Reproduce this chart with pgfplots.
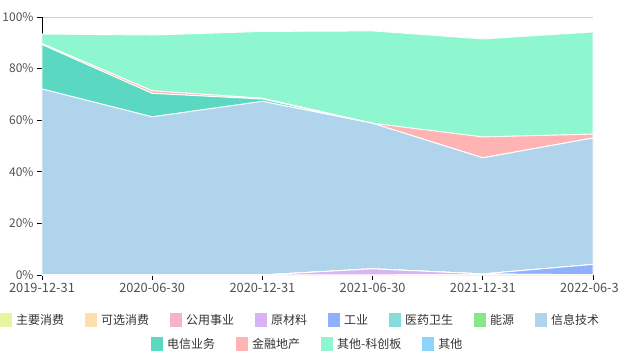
\documentclass[border=0pt]{standalone}
\usepackage{pgfplots}
\pgfplotsset{compat=1.18}
\usepackage{pgfplotstable}
\usepackage{fontspec}
\setmainfont{Noto Sans CJK SC}
\definecolor{c1}{RGB}{230,245,160}
\definecolor{c2}{RGB}{253,223,176}
\definecolor{c3}{RGB}{249,176,207}
\definecolor{c4}{RGB}{216,180,244}
\definecolor{c5}{RGB}{143,176,253}
\definecolor{c6}{RGB}{133,220,220}
\definecolor{c7}{RGB}{138,230,142}
\definecolor{c8}{RGB}{176,212,236}
\definecolor{c9}{RGB}{91,216,193}
\definecolor{c10}{RGB}{255,179,179}
\definecolor{c11}{RGB}{143,247,207}
\definecolor{c12}{RGB}{143,211,255}
\definecolor{labgray}{RGB}{80,80,80}
\definecolor{legtext}{RGB}{51,51,51}

\pgfplotstableread{
x  a  b   c   d   e   f  g  h    i    j    k    l
0  0  0   0   0   0   0  0  72.1 17.2 0.4  3.7  0
1  0  0   0   0   0   0  0  61.3 9.1  1.0  21.6 0
2  0  0   0   0   0   0  0  67.3 0.9  0.3  25.9 0
3  0  0   0   2.4 0   0  0  56.4 0    0    35.8 0
4  0  0.1 0   0.3 0   0  0  45.0 0    8.1  38.0 0
5  0  0   0.1 0   4.0 0  0  49.0 0    1.5  39.6 0
}\data

\pgfplotsset{
  legend image code/.code={\fill[#1,draw=none] (0bp,-7bp) rectangle (12bp,7bp);},
  mylegend/.style={
    draw=none, fill=none, inner sep=0pt, anchor=west,
    font=\fontsize{12bp}{14bp}\selectfont, text=legtext,
    nodes={inner sep=0pt},
    /tikz/every odd column/.append style={column sep=4bp},
    /tikz/every even column/.append style={column sep=21bp},
  },
}

\begin{document}
\begin{tikzpicture}
\path[use as bounding box] (-42bp,-76bp) rectangle (577bp,275bp);
\begin{axis}[
  at={(0,0)}, anchor=south west,
  scale only axis, width=551bp, height=258bp,
  xmin=0, xmax=5, ymin=0, ymax=100,
  stack plots=y,
  xtick={0,1,2,3,4,5},
  xticklabels={2019-12-31,2020-06-30,2020-12-31,2021-06-30,2021-12-31,2022-06-30},
  ytick={0,20,40,60,80,100},
  yticklabels={0\%,20\%,40\%,60\%,80\%,100\%},
  axis x line*=bottom, axis y line*=left,
  x axis line style={draw=gray!75, -},
  y axis line style={draw=black, -},
  ymajorgrids, grid style={draw=gray!35, line width=0.8pt},
  tick align=outside, major tick length=5bp,
  every tick/.style={draw=black, line width=0.7pt},
  yticklabel style={font=\fontsize{12bp}{14bp}\selectfont, text=labgray},
  xticklabel style={font=\fontsize{12.8bp}{15bp}\selectfont, text=labgray},
  legend columns=8,
  legend style={mylegend, at={(-0.0762,-0.1744)}},
]
\addplot[fill=c1, draw=white, line width=0.9pt] table[x=x,y=a]{\data} \closedcycle;
\addplot[fill=c2, draw=white, line width=0.9pt] table[x=x,y=b]{\data} \closedcycle;
\addplot[fill=c3, draw=white, line width=0.9pt] table[x=x,y=c]{\data} \closedcycle;
\addplot[fill=c4, draw=white, line width=0.9pt] table[x=x,y=d]{\data} \closedcycle;
\addplot[fill=c5, draw=white, line width=0.9pt] table[x=x,y=e]{\data} \closedcycle;
\addplot[fill=c6, draw=white, line width=0.9pt] table[x=x,y=f]{\data} \closedcycle;
\addplot[fill=c7, draw=white, line width=0.9pt] table[x=x,y=g]{\data} \closedcycle;
\addplot[fill=c8, draw=white, line width=0.9pt] table[x=x,y=h]{\data} \closedcycle;
\addplot[fill=c9, draw=white, line width=0.9pt] table[x=x,y=i]{\data} \closedcycle;
\addplot[fill=c10, draw=white, line width=0.9pt] table[x=x,y=j]{\data} \closedcycle;
\addplot[fill=c11, draw=white, line width=0.9pt] table[x=x,y=k]{\data} \closedcycle;
\addplot[fill=c12, draw=white, line width=0.9pt] table[x=x,y=l]{\data} \closedcycle;
\legend{主要消费,可选消费,公用事业,原材料,工业,医药卫生,能源,信息技术}
\end{axis}
\begin{axis}[
  at={(0,0)}, anchor=south west,
  scale only axis, width=551bp, height=258bp,
  hide axis, xmin=0, xmax=1, ymin=0, ymax=1,
  legend columns=4,
  legend style={mylegend, at={(0.1978,-0.2674)}},
]
\addlegendimage{fill=c9}\addlegendentry{电信业务}
\addlegendimage{fill=c10}\addlegendentry{金融地产}
\addlegendimage{fill=c11}\addlegendentry{其他-科创板}
\addlegendimage{fill=c12}\addlegendentry{其他}
\end{axis}
\end{tikzpicture}
\end{document}
